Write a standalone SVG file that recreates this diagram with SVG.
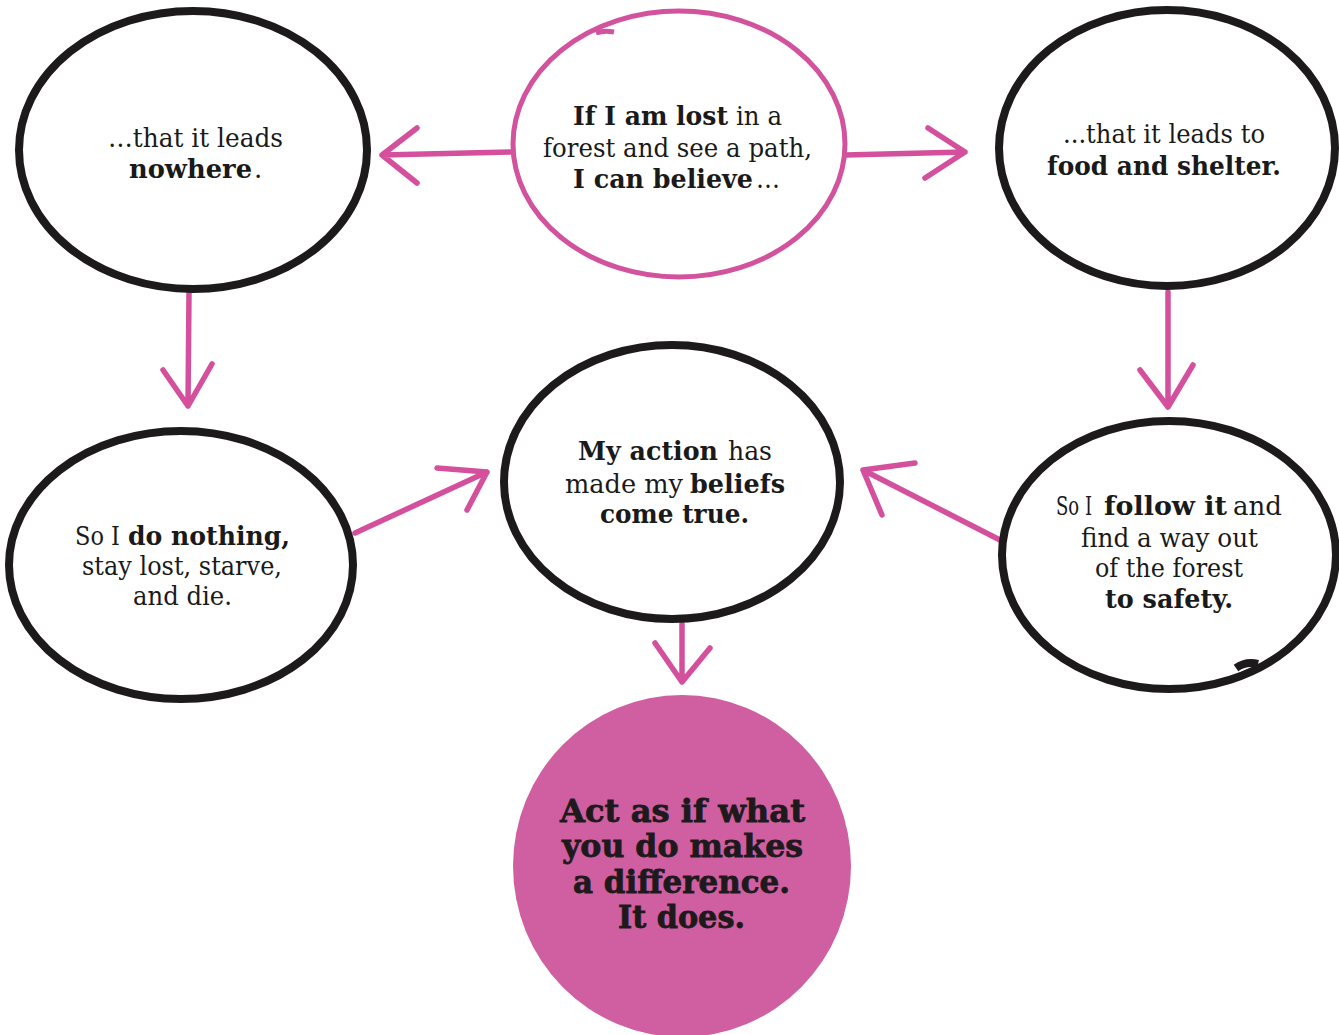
<svg xmlns="http://www.w3.org/2000/svg" width="1339" height="1035" viewBox="0 0 1339 1035">
<style>
  .bk { fill: none; stroke: #1c1a1a; stroke-width: 8; }
  .pk { fill: none; stroke: #d3529d; stroke-width: 5; }
  .pkfill { fill: #d05fa2; stroke: none; }
  .arr { fill: none; stroke: #d4509c; stroke-width: 5.5; stroke-linecap: round; stroke-linejoin: round; }
  .t { font-family: "DejaVu Serif", "Liberation Serif", serif; font-size: 26px; fill: #1a1a1a; }
  .b { font-weight: bold; }
  .big { font-family: "DejaVu Serif", "Liberation Serif", serif; font-size: 32px; font-weight: bold; fill: #1e1a1c; stroke: #1e1a1c; stroke-width: 0.8; }
</style>
<rect width="1339" height="1035" fill="#ffffff"/>

<g id="connectors">
  <path class="arr" d="M512,152 L382,155 M417,128 L382,155 L417,183"/>
  <path class="arr" d="M845,155 L965,152 M928,128 L965,152 L925,178"/>
  <path class="arr" d="M189,292 L188,406 M163,370 L188,406 L212,364"/>
  <path class="arr" d="M1168,292 L1168,407 M1140,370 L1168,407 L1193,365"/>
  <path class="arr" d="M682,624 L682,682 M655,643 L682,682 L710,648"/>
  <path class="arr" d="M355,533 L487,472 M437,468 L487,472 L467,510"/>
  <path class="arr" d="M1000,540 L863,470 M915,463 L863,470 L882,515"/>
</g>

<g id="node-start">
  <ellipse class="pk" cx="679" cy="144" rx="166" ry="133"/>
  <path class="pk" d="M596,33 Q604,30 614,32"/>
  <text class="t b" x="573" y="125" textLength="155" lengthAdjust="spacingAndGlyphs">If I am lost</text>
  <text class="t" x="736" y="125" textLength="46" lengthAdjust="spacingAndGlyphs">in a</text>
  <text class="t" x="543" y="157" textLength="269" lengthAdjust="spacingAndGlyphs">forest and see a path,</text>
  <text class="t b" x="573" y="188" textLength="180" lengthAdjust="spacingAndGlyphs">I can believe</text>
  <text class="t" x="756" y="188" textLength="24" lengthAdjust="spacingAndGlyphs">…</text>
</g>

<g id="node-nowhere">
  <ellipse class="bk" cx="193" cy="150" rx="174" ry="139"/>
  <text class="t" x="108" y="147" textLength="175" lengthAdjust="spacingAndGlyphs">…that it leads</text>
  <text class="t b" x="129" y="178" textLength="123" lengthAdjust="spacingAndGlyphs">nowhere</text>
  <text class="t" x="254" y="178">.</text>
</g>

<g id="node-food">
  <ellipse class="bk" cx="1167" cy="148" rx="168" ry="138"/>
  <text class="t" x="1063" y="143" textLength="202" lengthAdjust="spacingAndGlyphs">...that it leads to</text>
  <text class="t b" x="1047" y="175" textLength="234" lengthAdjust="spacingAndGlyphs">food and shelter.</text>
</g>

<g id="node-nothing">
  <ellipse class="bk" cx="181" cy="565" rx="172" ry="134"/>
  <text class="t" x="75" y="545" textLength="45" lengthAdjust="spacingAndGlyphs">So I</text>
  <text class="t b" x="128" y="545" textLength="162" lengthAdjust="spacingAndGlyphs">do nothing,</text>
  <text class="t" x="82" y="575" textLength="200" lengthAdjust="spacingAndGlyphs">stay lost, starve,</text>
  <text class="t" x="133" y="605" textLength="99" lengthAdjust="spacingAndGlyphs">and die.</text>
</g>

<g id="node-action">
  <ellipse class="bk" cx="672" cy="482" rx="168" ry="137"/>
  <text class="t b" x="578" y="460" textLength="140" lengthAdjust="spacingAndGlyphs">My action</text>
  <text class="t" x="728" y="460" textLength="44" lengthAdjust="spacingAndGlyphs">has</text>
  <text class="t" x="565" y="493" textLength="118" lengthAdjust="spacingAndGlyphs">made my</text>
  <text class="t b" x="690" y="493" textLength="95" lengthAdjust="spacingAndGlyphs">beliefs</text>
  <text class="t b" x="600" y="523" textLength="149" lengthAdjust="spacingAndGlyphs">come true.</text>
</g>

<g id="node-follow">
  <ellipse class="bk" cx="1169" cy="555" rx="167" ry="134"/>
  <path class="bk" d="M1236,668 Q1246,661 1258,664" stroke-width="4"/>
  <text class="t" x="1056" y="515" textLength="36" lengthAdjust="spacingAndGlyphs">So I</text>
  <text class="t b" x="1104" y="515" textLength="123" lengthAdjust="spacingAndGlyphs">follow it</text>
  <text class="t" x="1233" y="515" textLength="49" lengthAdjust="spacingAndGlyphs">and</text>
  <text class="t" x="1081" y="547" textLength="177" lengthAdjust="spacingAndGlyphs">find a way out</text>
  <text class="t" x="1095" y="577" textLength="148" lengthAdjust="spacingAndGlyphs">of the forest</text>
  <text class="t b" x="1105" y="608" textLength="128" lengthAdjust="spacingAndGlyphs">to safety.</text>
</g>

<g id="node-conclusion">
  <ellipse class="pkfill" cx="682" cy="866" rx="169" ry="171"/>
  <text class="big" x="560" y="822" textLength="245" lengthAdjust="spacingAndGlyphs">Act as if what</text>
  <text class="big" x="562" y="857" textLength="241" lengthAdjust="spacingAndGlyphs">you do makes</text>
  <text class="big" x="573" y="893" textLength="217" lengthAdjust="spacingAndGlyphs">a difference.</text>
  <text class="big" x="618" y="928" textLength="127" lengthAdjust="spacingAndGlyphs">It does.</text>
</g>
</svg>
